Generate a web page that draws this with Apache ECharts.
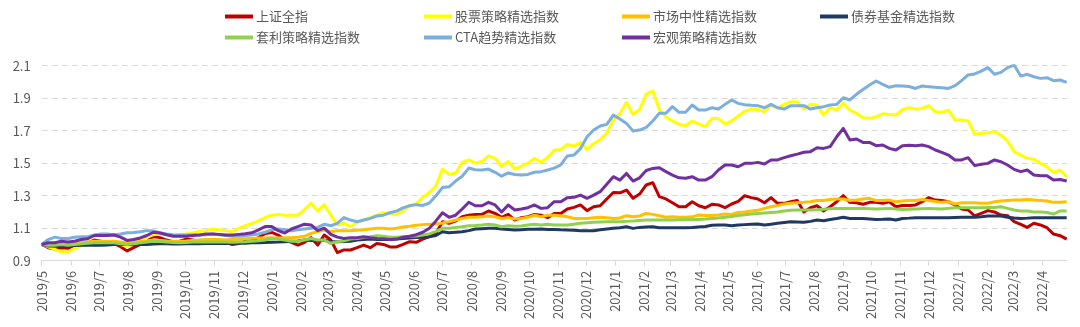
<!DOCTYPE html>
<html>
<head>
<meta charset="utf-8">
<script src="https://cdn.jsdelivr.net/npm/echarts@6/dist/echarts.min.js"></script>
<style>
html,body{margin:0;padding:0;background:#fff;}
#chart{width:1080px;height:327px;}
</style>
</head>
<body>
<div id="chart"></div>
<script>
// Weekly observation dates (first date, count of weekly points)
const startDate = [2019, 4, 1];
const pointCount = 157;
const dates = [];
for (let i = 0; i < pointCount; i++) dates.push(new Date(startDate[0], startDate[1], startDate[2] + 7 * i));

const seriesNames = ['上证全指','股票策略精选指数','市场中性精选指数','债券基金精选指数','套利策略精选指数','CTA趋势精选指数','宏观策略精选指数'];
const seriesColors = ['#C00000','#FFFF00','#FFC000','#203864','#92D050','#7CAFDD','#7030A0'];
const yTicks = [0.9, 1.1, 1.3, 1.5, 1.7, 1.9, 2.1];

const szAll = [
1.000,0.980,0.972,0.980,0.976,0.996,1.006,1.010,1.027,1.020,
1.013,1.006,0.986,0.960,0.980,1.000,1.017,1.048,1.042,1.027,
1.017,1.020,1.033,1.027,1.017,1.030,1.027,1.020,1.013,1.000,
1.006,1.020,1.027,1.042,1.068,1.074,1.058,1.027,1.013,0.996,
1.013,1.042,0.996,1.058,1.027,0.950,0.966,0.966,0.980,0.996,
0.980,1.006,1.000,0.985,0.985,1.000,1.017,1.013,1.033,1.048,
1.068,1.140,1.130,1.145,1.171,1.180,1.185,1.185,1.206,1.191,
1.167,1.185,1.150,1.165,1.171,1.185,1.180,1.165,1.190,1.190,
1.218,1.228,1.243,1.208,1.232,1.238,1.280,1.320,1.318,1.335,
1.284,1.310,1.366,1.380,1.294,1.280,1.257,1.232,1.232,1.263,
1.238,1.226,1.247,1.243,1.226,1.249,1.265,1.300,1.288,1.280,
1.257,1.288,1.253,1.253,1.263,1.270,1.200,1.226,1.238,1.206,
1.232,1.263,1.300,1.259,1.257,1.247,1.259,1.259,1.253,1.263,
1.232,1.240,1.240,1.243,1.263,1.288,1.273,1.270,1.263,1.243,
1.218,1.212,1.175,1.191,1.208,1.200,1.181,1.177,1.140,1.124,
1.105,1.130,1.120,1.103,1.064,1.054,1.033];

const stockStrategy = [
1.000,0.985,0.970,0.955,0.955,0.975,0.990,1.000,1.005,1.010,
1.010,1.015,1.000,0.990,1.005,1.025,1.045,1.060,1.065,1.060,
1.055,1.060,1.065,1.070,1.080,1.085,1.095,1.090,1.085,1.078,
1.100,1.115,1.130,1.145,1.165,1.180,1.185,1.180,1.180,1.180,
1.215,1.255,1.205,1.245,1.180,1.120,1.130,1.110,1.135,1.150,
1.165,1.180,1.195,1.190,1.185,1.205,1.240,1.250,1.290,1.320,
1.360,1.465,1.430,1.440,1.505,1.520,1.500,1.510,1.545,1.530,
1.480,1.510,1.465,1.480,1.500,1.530,1.505,1.535,1.580,1.585,
1.615,1.605,1.628,1.585,1.620,1.645,1.685,1.765,1.805,1.875,
1.800,1.830,1.925,1.945,1.830,1.785,1.760,1.740,1.730,1.760,
1.740,1.725,1.775,1.775,1.740,1.760,1.790,1.820,1.833,1.830,
1.818,1.858,1.840,1.862,1.878,1.878,1.833,1.862,1.858,1.796,
1.841,1.827,1.868,1.827,1.807,1.780,1.776,1.786,1.803,1.800,
1.796,1.830,1.841,1.833,1.837,1.854,1.817,1.813,1.827,1.766,
1.766,1.760,1.677,1.684,1.688,1.694,1.673,1.636,1.571,1.550,
1.530,1.524,1.499,1.478,1.444,1.458,1.417];

const marketNeutral = [
1.000,0.995,0.990,0.995,1.000,1.005,1.010,1.015,1.020,1.020,
1.020,1.020,1.015,1.010,1.012,1.018,1.022,1.028,1.025,1.022,
1.020,1.020,1.022,1.025,1.028,1.030,1.030,1.030,1.028,1.030,
1.032,1.035,1.038,1.040,1.040,1.042,1.040,1.042,1.042,1.045,
1.050,1.068,1.080,1.089,1.078,1.085,1.085,1.085,1.088,1.090,
1.095,1.099,1.100,1.095,1.100,1.107,1.112,1.118,1.122,1.124,
1.126,1.132,1.140,1.150,1.160,1.167,1.167,1.171,1.175,1.170,
1.160,1.165,1.157,1.160,1.167,1.180,1.171,1.180,1.180,1.177,
1.171,1.160,1.160,1.160,1.165,1.167,1.165,1.160,1.163,1.177,
1.170,1.175,1.191,1.185,1.177,1.167,1.171,1.167,1.167,1.170,
1.181,1.178,1.178,1.181,1.187,1.185,1.197,1.200,1.206,1.210,
1.222,1.232,1.240,1.249,1.253,1.256,1.259,1.263,1.270,1.270,
1.277,1.280,1.280,1.270,1.273,1.280,1.284,1.270,1.270,1.273,
1.263,1.267,1.270,1.270,1.277,1.270,1.265,1.259,1.263,1.249,
1.257,1.257,1.257,1.253,1.253,1.263,1.267,1.270,1.273,1.273,
1.277,1.273,1.270,1.267,1.259,1.259,1.263];

const bondFund = [
1.000,0.990,0.990,0.990,0.990,0.993,0.995,0.995,0.995,0.995,
0.997,1.000,1.000,1.000,0.998,1.000,1.000,1.002,1.005,1.005,
1.003,1.002,1.004,1.005,1.005,1.006,1.006,1.006,1.006,1.007,
1.008,1.008,1.010,1.010,1.012,1.014,1.015,1.017,1.020,1.022,
1.027,1.025,1.023,1.027,1.017,1.017,1.018,1.020,1.027,1.030,
1.033,1.031,1.031,1.031,1.033,1.037,1.040,1.042,1.045,1.048,
1.055,1.078,1.072,1.075,1.078,1.085,1.095,1.097,1.099,1.099,
1.095,1.092,1.089,1.091,1.093,1.094,1.095,1.092,1.092,1.090,
1.089,1.087,1.085,1.085,1.085,1.090,1.095,1.100,1.103,1.109,
1.099,1.105,1.107,1.109,1.103,1.103,1.103,1.103,1.103,1.105,
1.108,1.110,1.118,1.120,1.120,1.115,1.120,1.122,1.124,1.126,
1.120,1.125,1.130,1.135,1.140,1.138,1.136,1.142,1.150,1.146,
1.154,1.160,1.167,1.160,1.160,1.160,1.157,1.154,1.155,1.157,
1.150,1.160,1.162,1.165,1.165,1.165,1.165,1.165,1.165,1.166,
1.167,1.167,1.168,1.170,1.175,1.175,1.175,1.168,1.163,1.160,
1.162,1.165,1.165,1.165,1.165,1.165,1.165];

const arbitrage = [
1.000,0.995,0.995,1.000,0.995,1.000,1.005,1.008,1.010,1.010,
1.010,1.010,1.005,1.000,1.005,1.010,1.015,1.020,1.018,1.015,
1.012,1.010,1.012,1.015,1.015,1.015,1.015,1.015,1.015,1.013,
1.015,1.017,1.020,1.022,1.027,1.037,1.033,1.027,1.020,1.020,
1.027,1.037,1.027,1.027,1.007,1.017,1.023,1.033,1.037,1.042,
1.048,1.054,1.050,1.045,1.045,1.048,1.050,1.052,1.058,1.065,
1.080,1.099,1.100,1.105,1.109,1.115,1.117,1.120,1.124,1.120,
1.109,1.115,1.112,1.113,1.120,1.124,1.120,1.124,1.120,1.120,
1.120,1.125,1.130,1.133,1.136,1.138,1.140,1.140,1.140,1.142,
1.144,1.147,1.150,1.150,1.150,1.150,1.150,1.152,1.154,1.154,
1.154,1.156,1.160,1.163,1.167,1.172,1.178,1.183,1.188,1.191,
1.194,1.197,1.200,1.206,1.210,1.212,1.212,1.212,1.214,1.216,
1.219,1.222,1.222,1.222,1.222,1.222,1.220,1.218,1.220,1.222,
1.218,1.215,1.216,1.218,1.220,1.222,1.220,1.218,1.222,1.226,
1.226,1.226,1.226,1.226,1.227,1.228,1.232,1.222,1.212,1.206,
1.206,1.200,1.200,1.197,1.187,1.206,1.206];

const ctaTrend = [
1.000,1.030,1.045,1.037,1.037,1.044,1.048,1.048,1.058,1.064,
1.064,1.060,1.064,1.072,1.074,1.078,1.085,1.083,1.072,1.064,
1.060,1.058,1.058,1.060,1.058,1.060,1.064,1.060,1.055,1.050,
1.050,1.055,1.060,1.065,1.075,1.090,1.095,1.090,1.085,1.090,
1.095,1.100,1.105,1.124,1.115,1.130,1.165,1.150,1.140,1.150,
1.160,1.175,1.180,1.195,1.205,1.225,1.238,1.245,1.240,1.255,
1.300,1.350,1.355,1.390,1.420,1.470,1.460,1.458,1.464,1.444,
1.420,1.440,1.430,1.427,1.431,1.444,1.448,1.458,1.470,1.490,
1.545,1.550,1.590,1.663,1.704,1.729,1.739,1.796,1.772,1.745,
1.698,1.704,1.720,1.760,1.807,1.807,1.848,1.813,1.813,1.858,
1.827,1.827,1.841,1.833,1.862,1.889,1.868,1.860,1.856,1.854,
1.841,1.862,1.841,1.833,1.854,1.854,1.854,1.833,1.841,1.848,
1.858,1.862,1.903,1.889,1.924,1.954,1.981,2.006,1.985,1.967,
1.977,1.975,1.972,1.960,1.975,1.971,1.967,1.965,1.960,1.977,
2.008,2.043,2.049,2.067,2.088,2.047,2.059,2.088,2.104,2.036,
2.047,2.032,2.022,2.026,2.008,2.012,1.997];

const macroStrategy = [
1.000,1.010,1.010,1.020,1.015,1.020,1.030,1.035,1.055,1.055,
1.055,1.058,1.045,1.025,1.030,1.040,1.055,1.075,1.070,1.060,
1.050,1.050,1.050,1.055,1.058,1.064,1.064,1.062,1.058,1.058,
1.062,1.066,1.072,1.090,1.110,1.110,1.085,1.070,1.095,1.110,
1.125,1.120,1.085,1.100,1.062,1.045,1.037,1.042,1.042,1.048,
1.042,1.037,1.035,1.030,1.033,1.045,1.050,1.060,1.075,1.100,
1.145,1.195,1.167,1.180,1.218,1.260,1.238,1.238,1.259,1.243,
1.200,1.243,1.212,1.218,1.226,1.243,1.222,1.226,1.263,1.263,
1.288,1.290,1.304,1.284,1.304,1.325,1.370,1.417,1.396,1.437,
1.390,1.410,1.455,1.468,1.472,1.448,1.427,1.410,1.407,1.417,
1.396,1.396,1.417,1.458,1.489,1.489,1.478,1.499,1.499,1.505,
1.495,1.520,1.520,1.534,1.546,1.556,1.567,1.571,1.595,1.591,
1.602,1.663,1.714,1.643,1.649,1.628,1.628,1.608,1.612,1.591,
1.581,1.608,1.610,1.608,1.612,1.602,1.581,1.567,1.550,1.520,
1.520,1.534,1.485,1.493,1.499,1.520,1.509,1.489,1.462,1.448,
1.458,1.427,1.423,1.423,1.396,1.400,1.390];

const seriesValues = [szAll, stockStrategy, marketNeutral, bondFund, arbitrage, ctaTrend, macroStrategy];

const FONT = '"Noto Sans CJK SC", "Noto Sans", sans-serif';
const TEXT = '#595959';
const DAY = 86400000;

const chart = echarts.init(document.getElementById('chart'), null, {renderer: 'canvas'});

// legend grid: 4 columns x 2 rows
const legendLefts = [220, 419, 617, 815];
const legendTops = [5, 26];
const legends = seriesNames.map(function (name, k) {
  return {
    icon: 'rect', itemWidth: 28, itemHeight: 4, itemGap: 0,
    left: legendLefts[k % 4], top: legendTops[Math.floor(k / 4)],
    data: [name],
    textStyle: {color: TEXT, fontSize: 13, fontFamily: FONT, padding: [0, 0, 0, -2]}
  };
});

chart.setOption({
  animation: false,
  backgroundColor: '#fff',
  color: seriesColors,
  legend: legends,
  grid: {left: 41.7, right: 13.3, top: 65.7, bottom: 66.3, containLabel: false},
  xAxis: {
    type: 'time',
    min: dates[0].getTime(),
    max: dates[dates.length - 1].getTime(),
    splitNumber: 36,
    minInterval: 28 * DAY,
    maxInterval: 31 * DAY,
    axisLine: {show: true, lineStyle: {color: '#D9D9D9', width: 1}},
    axisTick: {show: true, length: 5, lineStyle: {color: '#D9D9D9'}},
    splitLine: {show: false},
    axisLabel: {
      rotate: 90, margin: 10, color: TEXT, fontSize: 13, fontFamily: FONT,
      showMinLabel: true, showMaxLabel: false, hideOverlap: false,
      formatter: function (v) { const d = new Date(v); return d.getFullYear() + '/' + (d.getMonth() + 1); }
    }
  },
  yAxis: {
    type: 'value',
    min: yTicks[0], max: yTicks[yTicks.length - 1], interval: 0.2,
    axisLine: {show: false}, axisTick: {show: false},
    splitLine: {show: true, lineStyle: {color: '#D9D9D9', type: [6, 4], width: 1}},
    axisLabel: {color: TEXT, fontSize: 13, fontFamily: FONT, margin: 11,
      formatter: function (v) { return v.toFixed(1); }}
  },
  series: seriesNames.map(function (name, k) {
    return {
      name: name, type: 'line', showSymbol: false, symbol: 'none',
      lineStyle: {width: 3, color: seriesColors[k], join: 'round'},
      itemStyle: {color: seriesColors[k]},
      data: seriesValues[k].map(function (v, i) { return [dates[i].getTime(), v]; })
    };
  })
});
</script>
</body>
</html>
